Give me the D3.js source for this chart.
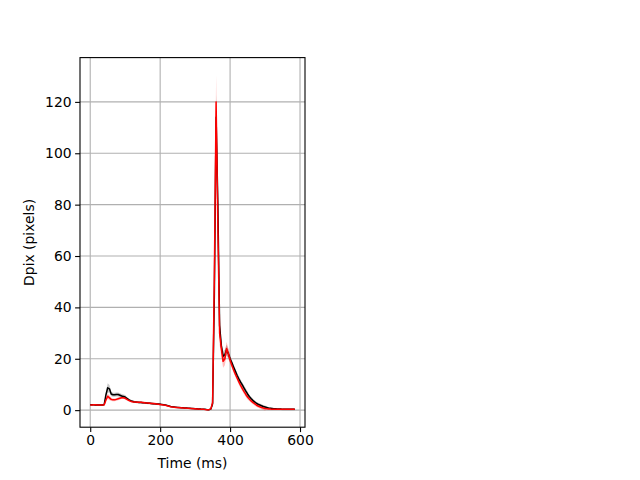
<!DOCTYPE html>
<html><head><meta charset="utf-8">
<script src="https://cdn.jsdelivr.net/npm/d3@7"></script>
<style>body{margin:0;background:#fff}svg{display:block}text{font-family:"DejaVu Sans",sans-serif}</style>
</head><body>
<script>
// sample times (ms), 5 ms step
const timeMs = d3.range(0, 590, 5);
const blackMean = [
2.1,2.1,2.1,2.0,2.0,2.0,2.0,2.0,2.2,
6.0,8.7,8.3,6.3,
6.0,6.0,6.1,6.1,5.8,5.5,5.3,5.1,
4.6,4.1,3.7,3.5,3.3,3.2,3.1,3.0,3.0,2.9,2.9,2.8,2.7,2.7,2.6,2.5,2.5,2.4,2.4,2.3,
2.2,2.1,2.0,1.8,1.6,1.4,1.3,1.2,1.1,1.0,1.0,0.9,0.9,0.8,0.8,0.7,0.7,0.6,0.6,0.5,0.5,0.4,0.4,0.3,0.3,0.3,0.2,0.2,
0.4,2.5,45,114,80,33,25,21,21.5,23.5,22,20,
18.5,16.8,15.2,13.6,12.2,10.9,9.8,8.6,7.4,6.3,
5.3,4.5,3.8,3.2,2.7,2.3,2.0,1.7,1.4,1.2,
1.0,0.8,0.7,0.6,0.5,0.5,0.4,0.4,0.4,0.3,0.3,0.3,0.3,0.3,0.3,0.3,0.3];
const blackErr = [
0.3,0.3,0.3,0.3,0.3,0.3,0.3,0.3,0.3,
1.2,1.8,1.5,0.9,
0.8,0.8,0.8,0.8,0.8,0.8,0.8,0.8,
0.4,0.4,0.4,0.4,0.4,0.4,0.4,0.4,0.4,0.4,0.4,0.4,0.4,0.4,0.4,0.4,0.4,0.4,0.4,0.4,
0.2,0.2,0.2,0.2,0.2,0.2,0.2,0.2,0.2,0.2,0.2,0.2,0.2,0.2,0.2,0.2,0.2,0.2,0.2,0.2,0.2,0.2,0.2,0.2,0.2,0.2,0.2,0.2,
0.3,1.0,6,9,8,4,2.5,2.0,2.0,2.0,1.8,1.5,
1.0,1.0,1.0,1.0,1.0,1.0,1.0,1.0,1.0,1.0,
0.6,0.6,0.6,0.6,0.6,0.6,0.6,0.6,0.6,0.6,
0.3,0.3,0.3,0.3,0.3,0.3,0.3,0.3,0.3,0.3,0.3,0.3,0.3,0.3,0.3,0.3,0.3];
const redMean = [
2.0,2.0,2.1,2.1,2.0,2.0,2.0,2.0,2.1,
4.0,5.4,4.8,4.2,
4.0,4.0,4.2,4.4,4.6,4.8,4.8,4.6,
4.2,3.8,3.5,3.3,3.2,3.2,3.1,3.1,3.1,3.0,2.9,2.8,2.8,2.7,2.6,2.6,2.5,2.4,2.3,2.2,
2.1,2.0,1.9,1.7,1.5,1.3,1.2,1.1,1.0,1.0,0.9,0.9,0.8,0.8,0.7,0.7,0.6,0.6,0.5,0.5,0.4,0.4,0.3,0.3,0.3,0.2,0.2,0.2,
0.5,3.0,52,120,72,30,24,19,20,24,22,19.5,
17.5,15.6,14.0,12.5,11.0,9.6,8.4,7.2,6.1,5.1,
4.3,3.6,3.0,2.5,2.0,1.6,1.3,1.0,0.8,0.6,
0.5,0.4,0.4,0.3,0.3,0.3,0.3,0.3,0.3,0.3,0.3,0.3,0.3,0.3,0.3,0.3,0.3];
const redErr = [
0.3,0.3,0.3,0.3,0.3,0.3,0.3,0.3,0.3,
0.8,1.0,0.9,0.6,
0.5,0.5,0.5,0.5,0.5,0.5,0.5,0.5,
0.4,0.4,0.4,0.4,0.4,0.4,0.4,0.4,0.4,0.4,0.4,0.4,0.4,0.4,0.4,0.4,0.4,0.4,0.4,0.4,
0.2,0.2,0.2,0.2,0.2,0.2,0.2,0.2,0.2,0.2,0.2,0.2,0.2,0.2,0.2,0.2,0.2,0.2,0.2,0.2,0.2,0.2,0.2,0.2,0.2,0.2,0.2,0.2,
0.3,1.2,7,10.7,9,4.5,3,2.5,2.5,2.5,2,1.6,
1.0,1.0,1.0,1.0,1.0,1.0,1.0,1.0,1.0,1.0,
0.7,0.7,0.7,0.7,0.7,0.7,0.7,0.7,0.7,0.7,
0.2,0.2,0.2,0.2,0.2,0.2,0.2,0.2,0.2,0.2,0.2,0.2,0.2,0.2,0.2,0.2,0.2];
const xTicks = [0, 200, 400, 600];
const yTicks = [0, 20, 40, 60, 80, 100, 120];
const xLabel = "Time (ms)";
const yLabel = "Dpix (pixels)";

(function () {
const W = 640, H = 480;
const pL = 80, pR = 305, pT = 57.6, pB = 427.2;
const svg = d3.select("body").append("svg").attr("width", W).attr("height", H);

const series = [
  {mean: blackMean, err: blackErr, line: "#000000", fill: "#000000", op: 0.22},
  {mean: redMean, err: redErr, line: "#ff0000", fill: "#ff0000", op: 0.25}
];
let lo = Infinity, hi = -Infinity;
series.forEach(s => s.mean.forEach((m, i) => { lo = Math.min(lo, m - s.err[i]); hi = Math.max(hi, m + s.err[i]); }));
const xmin = d3.min(timeMs), xmax = d3.max(timeMs);
const xpad = (xmax - xmin) * 0.05, ypad = (hi - lo) * 0.05;
const x = d3.scaleLinear().domain([xmin - xpad, xmax + xpad]).range([pL, pR]);
const y = d3.scaleLinear().domain([lo - ypad, hi + ypad]).range([pB, pT]);

const g = svg.append("g");
g.selectAll("line.gx").data(xTicks).join("line").attr("class", "gx")
  .attr("x1", d => x(d)).attr("x2", d => x(d)).attr("y1", pT).attr("y2", pB)
  .attr("stroke", "#b0b0b0").attr("stroke-width", 1.1);
g.selectAll("line.gy").data(yTicks).join("line").attr("class", "gy")
  .attr("y1", d => y(d)).attr("y2", d => y(d)).attr("x1", pL).attr("x2", pR)
  .attr("stroke", "#b0b0b0").attr("stroke-width", 1.1);

svg.append("clipPath").attr("id", "c").append("rect")
  .attr("x", pL).attr("y", pT).attr("width", pR - pL).attr("height", pB - pT);
const plot = svg.append("g").attr("clip-path", "url(#c)");

series.forEach(s => {
  const area = d3.area().x((d, i) => x(timeMs[i])).y0((d, i) => y(s.mean[i] - s.err[i])).y1((d, i) => y(s.mean[i] + s.err[i]));
  plot.append("path").datum(s.mean).attr("d", area).attr("fill", s.fill).attr("fill-opacity", s.op);
});
series.forEach(s => {
  const line = d3.line().x((d, i) => x(timeMs[i])).y(d => y(d));
  plot.append("path").datum(s.mean).attr("d", line).attr("fill", "none")
    .attr("stroke", s.line).attr("stroke-width", 1.5).attr("stroke-linejoin", "round");
});

const xAxis = d3.axisBottom(x).tickValues(xTicks).tickSize(4.9).tickPadding(3.5).tickFormat(d3.format("d"));
const yAxis = d3.axisLeft(y).tickValues(yTicks).tickSize(4.9).tickPadding(3.5).tickFormat(d3.format("d"));
const gx = svg.append("g").attr("transform", `translate(0,${pB})`).call(xAxis);
const gy = svg.append("g").attr("transform", `translate(${pL},0)`).call(yAxis);
[gx, gy].forEach(a => {
  a.select(".domain").remove();
  a.selectAll("line").attr("stroke", "#000").attr("stroke-width", 1.1);
  a.selectAll("text").attr("font-size", "13.9px").attr("fill", "#000").attr("font-family", "DejaVu Sans");
});
svg.append("rect").attr("x", pL).attr("y", pT).attr("width", pR - pL).attr("height", pB - pT)
  .attr("fill", "none").attr("stroke", "#000").attr("stroke-width", 1.1);

svg.append("text").attr("x", (pL + pR) / 2).attr("y", 468).attr("text-anchor", "middle")
  .attr("font-size", "13.9px").text(xLabel);
svg.append("text").attr("transform", `translate(34,${(pT + pB) / 2}) rotate(-90)`).attr("text-anchor", "middle")
  .attr("font-size", "13.9px").text(yLabel);
})();
</script>
</body></html>
